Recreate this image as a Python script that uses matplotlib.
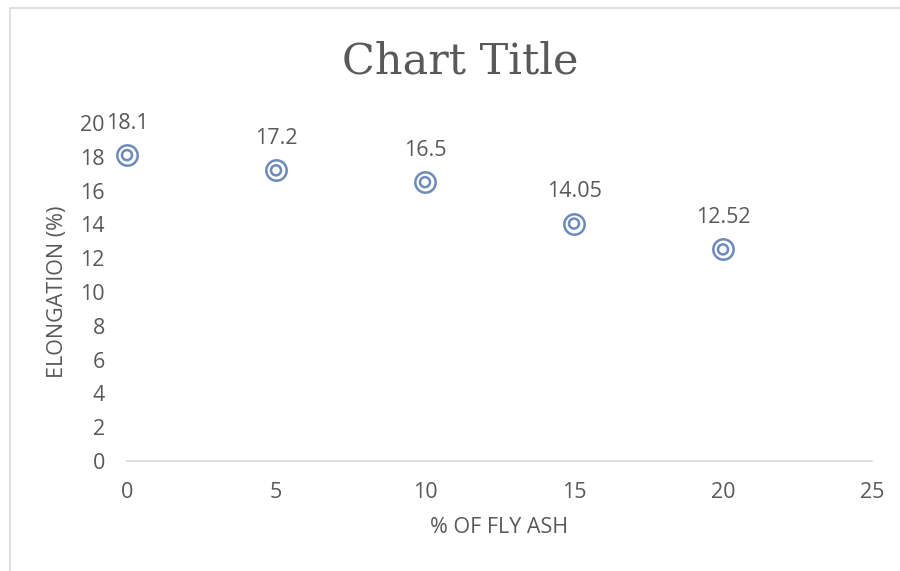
import matplotlib
matplotlib.use("Agg")
import matplotlib.pyplot as plt
from matplotlib.patches import Rectangle

# Elongation vs fly ash content
fly_ash = [0, 5, 10, 15, 20]
elongation = [18.1, 17.2, 16.5, 14.05, 12.52]
value_labels = ["18.1", "17.2", "16.5", "14.05", "12.52"]
x_ticks = [0, 5, 10, 15, 20, 25]
y_ticks = [0, 2, 4, 6, 8, 10, 12, 14, 16, 18, 20]

text_color = "#595959"
marker_color = "#6D8AB8"
font = "Open Sans"
fs = 15.5

fig = plt.figure(figsize=(9.0, 5.71), dpi=100)
fig.patch.set_facecolor("white")

# Chart area border
fig.patches.append(Rectangle((10 / 900, -0.1), 1.2, (571 - 8) / 571 + 0.1,
                             transform=fig.transFigure, fill=False,
                             edgecolor="#D9D9D9", linewidth=1.2))

ax = fig.add_axes([127 / 900, 1 - 461 / 571, (872 - 127) / 900, (461 - 123) / 571])
ax.set_xlim(0, 25)
ax.set_ylim(0, 20)
ax.set_xticks(x_ticks)
ax.set_yticks(y_ticks)
ax.set_xticklabels([str(v) for v in x_ticks], fontsize=fs, color=text_color, family=font)
ax.set_yticklabels([str(v) for v in y_ticks], fontsize=fs, color=text_color, family=font)
ax.tick_params(axis="x", length=0, pad=15)
ax.tick_params(axis="y", length=0, pad=16)
for side in ("top", "right", "left"):
    ax.spines[side].set_visible(False)
ax.spines["bottom"].set_color("#D9D9D9")
ax.spines["bottom"].set_linewidth(1.2)

# Double-ring markers
ax.scatter(fly_ash, elongation, s=215, facecolors="white", edgecolors=marker_color,
           linewidths=1.8, zorder=3, clip_on=False)
ax.scatter(fly_ash, elongation, s=52, facecolors="none", edgecolors=marker_color,
           linewidths=1.8, zorder=4, clip_on=False)

for x, y, lab in zip(fly_ash, elongation, value_labels):
    ax.annotate(lab, (x, y), xytext=(0, 19), textcoords="offset points",
                ha="center", va="baseline", fontsize=fs, color=text_color, family=font)

ax.set_xlabel("% OF FLY ASH", fontsize=fs, color=text_color, family=font, labelpad=10)
ax.set_ylabel("ELONGATION (%)", fontsize=fs, color=text_color, family=font, labelpad=9)

fig.text(460 / 900, 1 - 61 / 571, "Chart Title", ha="center", va="center",
         fontsize=31, color=text_color, family="DejaVu Serif")

fig.savefig("out.png", dpi=100, facecolor="white")
